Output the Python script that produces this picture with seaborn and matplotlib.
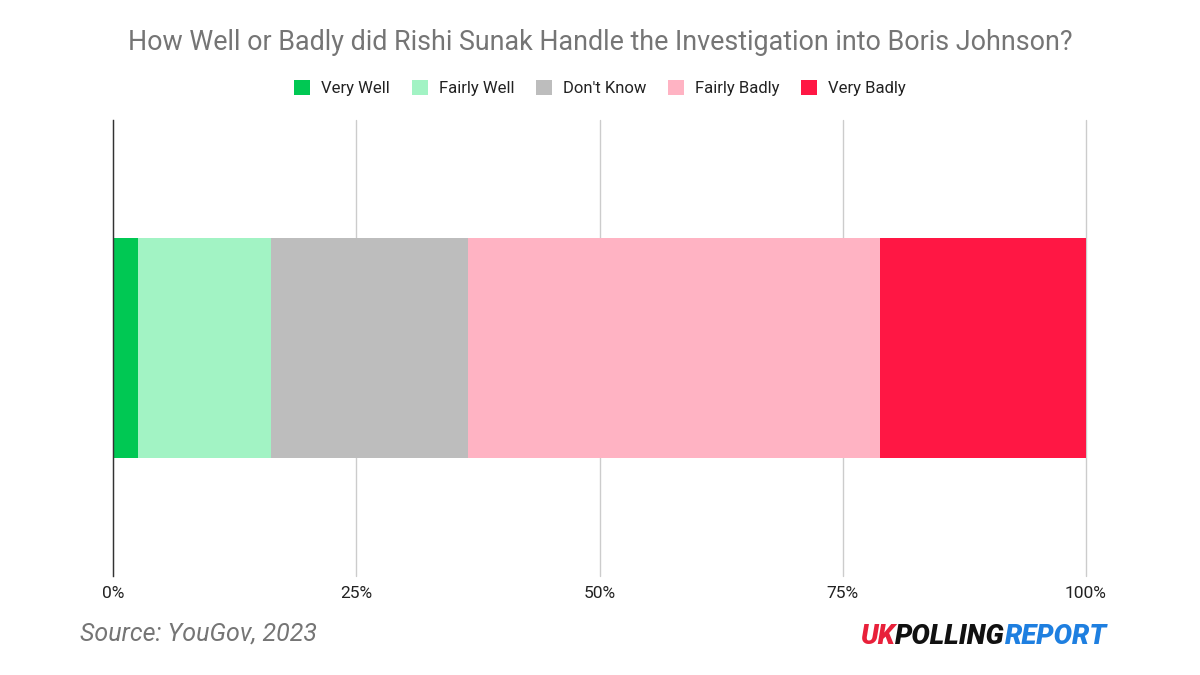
import pandas as pd
import seaborn as sns
import matplotlib.pyplot as plt
from matplotlib.patches import Patch

# responses, share of respondents (%)
answers = ["Very Well", "Fairly Well", "Don't Know", "Fairly Badly", "Very Badly"]
shares = [2.6, 13.6, 20.3, 42.3, 21.2]
colors = ["#00c853", "#a2f3c4", "#bdbdbd", "#ffb3c3", "#ff1744"]
ticks = [0, 25, 50, 75, 100]
tick_labels = ["0%", "25%", "50%", "75%", "100%"]

sns.set_theme(style="white")
plt.rcParams['font.family'] = ['Roboto', 'DejaVu Sans']

df = pd.DataFrame({"answer": answers, "share": shares})
df["end"] = df["share"].cumsum()
df["row"] = "All"

fig = plt.figure(figsize=(12, 6.75), dpi=100)
ax = fig.add_axes([113 / 1200, 1 - 576 / 675, (1086 - 113) / 1200, (576 - 120) / 675])

# stacked bar: draw cumulative ends from the longest down
for i in reversed(range(len(df))):
    sns.barplot(data=df.iloc[[i]], x="end", y="row", orient="h", color=colors[i],
                width=0.965, saturation=1, ax=ax, zorder=3, linewidth=0)

ax.set_ylim(1, -1)
ax.set_xlim(0, 100)
ax.set_xticks(ticks)
ax.set_xticklabels(tick_labels)
ax.set_xlabel("")
ax.set_ylabel("")
ax.set_yticks([])
ax.set_axisbelow(True)
ax.grid(axis="x", color="#cccccc", linewidth=1)
ax.grid(axis="y", visible=False)
for gl in ax.get_xgridlines():
    gl.set_clip_on(False)
for s in ["top", "right", "bottom"]:
    ax.spines[s].set_visible(False)
ax.spines["left"].set_color("#333333")
ax.spines["left"].set_linewidth(1)
ax.spines["left"].set_zorder(4)
ax.tick_params(axis="x", length=0, pad=7, labelsize=12.5, labelcolor="#222222")

fig.text(0.5, 1 - 43 / 675, "How Well or Badly did Rishi Sunak Handle the Investigation into Boris Johnson?",
         ha="center", va="center", fontsize=19.4, color="#757575")

handles = [Patch(facecolor=c, edgecolor="none", label=a) for a, c in zip(answers, colors)]
fig.legend(handles=handles, loc="center", bbox_to_anchor=(0.5, 1 - 88 / 675), ncol=5,
           frameon=False, fontsize=12, handlelength=0.96, handleheight=0.96,
           handletextpad=0.66, columnspacing=1.3, labelcolor="#222222")

fig.text(80 / 1200, 1 - 634 / 675, "Source: YouGov, 2023", ha="left", va="center",
         fontsize=18, style="italic", color="#757575")

# logo text
logo_y = 1 - 636 / 675
t1 = fig.text(860 / 1200, logo_y, "UK", ha="left", va="center", fontsize=19.8,
              fontweight="black", style="italic", color="#e8203a")
fig.canvas.draw()
r = fig.canvas.get_renderer()
bb = t1.get_window_extent(r)
t2 = fig.text(bb.x1 / 1200, logo_y, "POLLING", ha="left", va="center", fontsize=19.8,
              fontweight="black", style="italic", color="#111111")
bb = t2.get_window_extent(r)
fig.text(bb.x1 / 1200, logo_y, "REPORT", ha="left", va="center", fontsize=19.8,
         fontweight="black", style="italic", color="#1e7fe0")

fig.savefig("out.png", dpi=100)
